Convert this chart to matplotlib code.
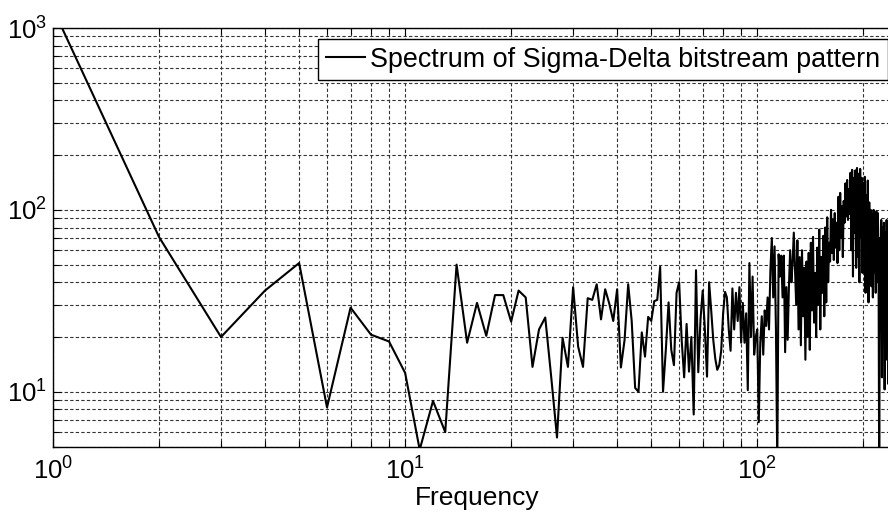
import numpy as np
import matplotlib
matplotlib.use('Agg')
import matplotlib.pyplot as plt
from matplotlib.ticker import LogLocator, NullFormatter, LogFormatterSciNotation

plt.rcParams['font.family'] = ['Liberation Sans', 'DejaVu Sans']
plt.rcParams['mathtext.default'] = 'regular'

# spectrum magnitude, one value per integer frequency bin
spec_low = [1280, 71, 20, 36, 51, 8.2, 29, 20.6, 18.9, 12.7,
            4.8, 8.9, 6.0, 50, 18.6, 30.8, 20.3, 34, 34, 24.3,
            36, 33, 13.7, 22, 25.6, 12, 5.6, 19.8, 13.7, 37.6,
            17.7, 13.7, 32.7, 32, 39]
spec_mid = [25, 36.6, 30.5, 24.5, 36.6, 13.6, 19.3, 39, 24.5, 10.5,
            10, 21.2, 15.6, 25.8, 24.5, 31.5, 32, 48.6, 10, 17,
            31, 17, 14, 35, 40, 19.3, 12, 23.6, 12.9, 20,
            7.5, 46.6, 12.8, 25, 36, 22, 12.1, 40, 28, 19.3,
            15.2, 13.2, 14, 16.8, 27, 35.4, 33, 22, 16.8, 37,
            22, 35, 24.5, 37.6, 18.6, 30.8, 18.6, 27, 10.2, 51,
            20, 43, 16, 20, 22, 6.8, 18.6, 26, 16, 28,
            23, 33, 22, 47, 70, 33, 63, 22, 4, 57,
            43, 56, 33, 56, 16.5, 37.6, 19.3, 37.6, 60, 40,
            51, 75, 47]
spec_high = [30, 68, 22, 55, 18, 60, 26, 48, 15, 52,
             20, 58, 17, 66, 28, 71, 24, 45, 20, 62,
             30, 78, 22, 55, 35, 72, 26, 80, 31, 91,
             40, 66, 52, 100, 58, 88, 53, 96, 62, 85,
             51, 118, 60, 124, 70, 105, 55, 112, 85, 140,
             92, 146, 88, 130, 95, 160, 60, 166, 43, 150,
             75, 165, 48, 170, 55, 158, 40, 168, 70, 150,
             45, 140, 60, 152, 35, 120, 50, 145, 31, 110,
             40, 100, 38, 95, 33, 100, 45, 85, 35, 98,
             40, 96, 60, 3, 70, 25, 88, 12, 80, 20,
             85, 10.3, 75, 15, 88, 30, 82, 11, 70, 25,
             80, 18]

spectrum = np.array(spec_low + spec_mid + spec_high)
freqs = np.arange(1, len(spectrum) + 1)

fig = plt.figure(figsize=(8.88, 5.18), dpi=100)
# axes runs past the right edge of the picture, as in the cropped original
ax = fig.add_axes([53 / 888, (518 - 446.5) / 518, 848 / 888, 418.5 / 518])

ax.loglog(freqs, spectrum, color='black', linewidth=1.5,
          label='Spectrum of Sigma-Delta bitstream pattern')

ax.set_xlim(1, 256)
ax.set_ylim(5, 1000)

ax.xaxis.set_major_locator(LogLocator(base=10, numticks=10))
ax.xaxis.set_minor_locator(LogLocator(base=10, subs=np.arange(2, 10), numticks=20))
ax.yaxis.set_major_locator(LogLocator(base=10, numticks=10))
ax.yaxis.set_minor_locator(LogLocator(base=10, subs=np.arange(2, 10), numticks=20))
ax.xaxis.set_major_formatter(LogFormatterSciNotation())
ax.yaxis.set_major_formatter(LogFormatterSciNotation())
ax.xaxis.set_minor_formatter(NullFormatter())
ax.yaxis.set_minor_formatter(NullFormatter())

ax.grid(True, which='both', color='0.2', linestyle=(0, (3, 2)), linewidth=0.8)
ax.tick_params(which='both', direction='in', top=True, right=True, labelsize=18.5)
ax.tick_params(which='major', length=5.5, width=0.8)
ax.tick_params(which='minor', length=4, width=0.8)
ax.tick_params(axis='x', pad=8)
ax.tick_params(axis='y', pad=4)
for sp in ax.spines.values():
    sp.set_linewidth(1.0)

ax.set_xlabel('Frequency', fontsize=19, labelpad=1)

leg = ax.legend(loc='upper left', bbox_to_anchor=(318 / 888, 1 - 39 / 518),
                bbox_transform=fig.transFigure, fontsize=19.4, fancybox=False,
                framealpha=1, edgecolor='black', borderpad=0.28,
                handlelength=1.45, handletextpad=0.2, borderaxespad=0)
leg.get_frame().set_linewidth(1.0)

fig.savefig('out.png', dpi=100)
